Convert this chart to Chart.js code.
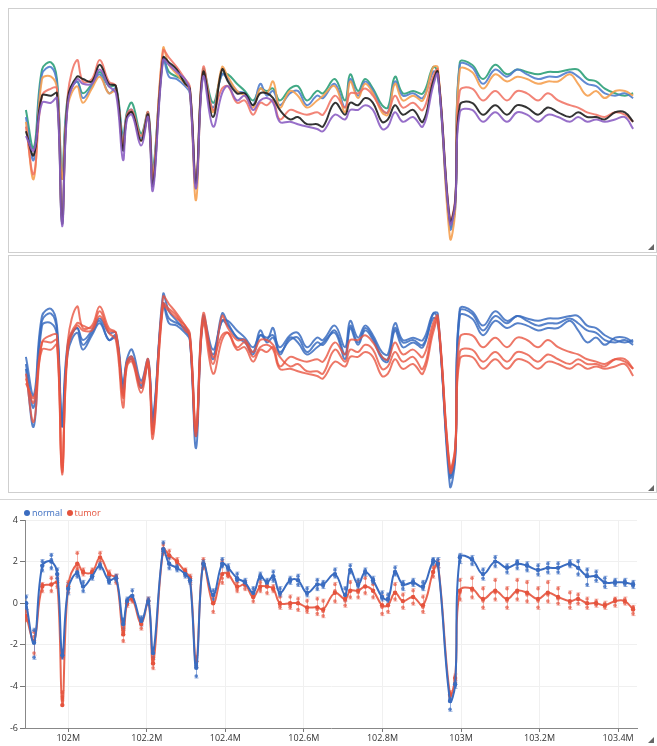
<!DOCTYPE html>
<html>
<head>
<meta charset="utf-8">
<script src="https://cdn.jsdelivr.net/npm/chart.js@4.4.1/dist/chart.umd.min.js"></script>
<style>
  body { margin: 0; width: 657px; height: 746px; background: #fff; position: relative; overflow: hidden;
         font-family: "Open Sans", "DejaVu Sans", sans-serif; }
  .panel { position: absolute; box-sizing: border-box; border: 1px solid #cfcfcf; background: #fff; }
  canvas { position: absolute; }
  .grip { position: absolute; width: 0; height: 0; border-left: 6px solid transparent; border-bottom: 6px solid #666; }
  .legend { position: absolute; left: 24px; top: 507px; font-size: 9px; line-height: 12px; white-space: nowrap; }
  .legend span.dot { display: inline-block; width: 6px; height: 6px; border-radius: 3px; margin-right: 2px; vertical-align: -0px; }
</style>
</head>
<body>
<div class="panel" style="left:8px; top:8px; width:649px; height:245px;"></div>
<div class="panel" style="left:8px; top:255px; width:649px; height:238px;"></div>
<div class="panel" style="left:-1px; top:499px; width:659px; height:250px; border-color:#d6d6d6;"></div>
<canvas id="samplesChart" width="646" height="242" style="left:9px; top:9px;"></canvas>
<canvas id="groupsChart" width="646" height="236" style="left:9px; top:256px;"></canvas>
<canvas id="meanChart" width="657" height="246" style="left:0; top:500px;"></canvas>
<div class="grip" style="left:648px; top:244px;"></div>
<div class="grip" style="left:648px; top:485px;"></div>
<div class="grip" style="left:648px; top:737px;"></div>
<div class="legend">
  <span class="dot" style="background:#3a6cc0"></span><span style="color:#3a6cc0">normal</span>
  <span class="dot" style="background:#e5533d; margin-left:2px"></span><span style="color:#e5533d">tumor</span>
</div>
<script>
// позиции проб, Mb
const positions = [101.893, 101.913, 101.934, 101.957, 101.972, 101.985, 102.000, 102.023, 102.038, 102.061,
  102.081, 102.104, 102.122, 102.140, 102.150, 102.163, 102.186, 102.204, 102.216, 102.242,
  102.257, 102.277, 102.298, 102.310, 102.326, 102.344, 102.369, 102.392, 102.407, 102.430,
  102.450, 102.471, 102.489, 102.506, 102.522, 102.539, 102.565, 102.585, 102.608, 102.634,
  102.649, 102.679, 102.705, 102.718, 102.738, 102.756, 102.776, 102.799, 102.814, 102.832,
  102.852, 102.878, 102.903, 102.929, 102.941, 102.972, 102.985, 102.997, 103.028, 103.056,
  103.087, 103.117, 103.143, 103.168, 103.196, 103.221, 103.247, 103.277, 103.298, 103.321,
  103.344, 103.366, 103.392, 103.417, 103.438];

// средние по группам (нижний график)
const normalMean = [0.0, -1.9, 1.8, 2.0, 1.4, -2.5, 0.7, 1.45, 0.8, 1.3,
  1.8, 1.1, 1.2, -1.0, 0.1, 0.35, -0.85, 0.1, -2.4, 2.6,
  1.9, 1.7, 1.4, 1.1, -3.1, 1.9, 0.4, 1.9, 1.7, 1.2,
  1.0, 0.5, 1.3, 1.0, 1.3, 0.5, 1.1, 1.1, 0.5, 0.9,
  0.9, 1.4, 0.4, 1.6, 0.9, 1.5, 1.1, 0.3, 0.2, 1.5,
  0.9, 1.0, 0.8, 2.0, 1.9, -4.7, -3.9, 2.2, 2.1, 1.4,
  2.0, 1.7, 1.9, 1.8, 1.6, 1.7, 1.7, 1.9, 1.7, 1.3,
  1.3, 1.0, 1.0, 1.0, 0.9];
const tumorMean = [-0.6, -1.8, 0.8, 0.9, 1.0, -4.9, 0.8, 1.9, 1.5, 1.5,
  2.2, 1.4, 1.2, -1.5, 0.0, 0.2, -1.0, 0.1, -2.9, 2.6,
  2.3, 2.0, 1.5, 1.2, -2.8, 1.9, 0.0, 1.4, 1.4, 0.8,
  0.9, 0.3, 0.8, 0.8, 0.7, 0.0, 0.0, 0.0, -0.2, -0.2,
  -0.3, 0.5, 0.2, 0.6, 0.6, 0.8, 0.6, -0.1, -0.1, 0.5,
  0.1, 0.3, -0.1, 1.5, 1.9, -4.4, -3.6, 0.6, 0.7, 0.2,
  0.6, 0.2, 0.6, 0.5, 0.2, 0.5, 0.3, 0.1, 0.2, 0.0,
  0.0, -0.1, 0.1, 0.1, -0.3];

// отдельные образцы: normal
const normal1 = [0.3, -1.3, 2.0, 2.3, 1.6, -2.3, 0.9, 1.5, 1.0, 1.4,
  1.9, 1.3, 1.3, -0.8, 0.2, 0.6, -0.7, 0.2, -2.2, 2.5,
  1.9, 1.7, 1.5, 1.2, -2.9, 2.0, 0.6, 1.8, 1.8, 1.4,
  1.1, 0.7, 1.2, 1.1, 1.2, 0.7, 1.2, 1.3, 0.7, 1.1,
  1.0, 1.6, 0.7, 1.8, 1.1, 1.6, 1.2, 0.5, 0.4, 1.7,
  1.0, 1.1, 1.0, 2.1, 1.9, -4.6, -3.8, 2.3, 2.2, 1.6,
  2.2, 1.8, 2.0, 1.9, 1.8, 1.9, 1.9, 2.0, 2.0, 1.6,
  1.5, 1.2, 1.0, 0.9, 1.0];
const normal2 = [0.0, -1.8, 1.8, 2.1, 1.4, -2.6, 0.7, 1.5, 0.8, 1.3,
  1.8, 1.0, 1.2, -1.0, 0.1, 0.3, -0.9, 0.1, -2.4, 2.5,
  1.7, 1.6, 1.3, 1.0, -3.0, 1.8, 0.4, 1.8, 1.6, 1.1,
  1.0, 0.5, 1.4, 0.9, 1.1, 0.5, 1.0, 1.1, 0.5, 0.9,
  0.8, 1.4, 0.4, 1.6, 0.9, 1.5, 1.1, 0.3, 0.2, 1.5,
  0.9, 1.0, 0.8, 1.9, 1.8, -4.7, -3.9, 2.2, 2.1, 1.4,
  2.0, 1.7, 2.0, 1.8, 1.6, 1.7, 1.7, 1.9, 1.7, 1.4,
  1.3, 1.0, 0.9, 1.0, 0.8];
const normal3 = [-0.2, -2.6, 1.6, 1.7, 1.2, -2.6, 0.5, 1.3, 0.6, 1.2,
  1.7, 1.0, 1.1, -1.2, 0.0, 0.2, -1.0, 0.0, -2.6, 2.9,
  2.2, 1.8, 1.4, 1.1, -3.5, 1.9, 0.2, 2.1, 1.7, 1.1,
  0.9, 0.4, 1.2, 1.0, 1.5, 0.4, 1.1, 0.9, 0.4, 0.7,
  0.9, 1.3, 0.2, 1.5, 0.8, 1.4, 1.0, 0.2, 0.1, 1.4,
  0.7, 0.9, 0.7, 2.1, 2.1, -5.1, -4.0, 2.0, 1.9, 1.2,
  1.8, 1.5, 1.7, 1.6, 1.4, 1.5, 1.5, 1.8, 1.4, 0.9,
  1.1, 0.8, 1.1, 1.1, 0.9];

// отдельные образцы: tumor
const tumor1 = [-0.4, -2.4, 0.9, 1.2, 1.2, -4.3, 1.0, 2.4, 1.5, 1.6,
  2.4, 1.5, 1.3, -1.3, 0.1, 0.3, -0.8, 0.2, -2.7, 2.8,
  2.5, 2.1, 1.6, 1.3, -2.6, 2.1, 0.3, 1.2, 1.3, 0.6,
  0.7, 0.1, 0.6, 0.5, 0.7, -0.1, 0.3, 0.2, 0.1, 0.2,
  0.1, 0.9, 0.4, 1.0, 1.0, 1.2, 0.9, 0.3, 0.2, 0.9,
  0.4, 0.6, 0.3, 1.7, 2.0, -4.3, -3.5, 1.1, 1.2, 0.7,
  1.1, 0.7, 1.1, 1.0, 0.7, 1.0, 0.7, 0.5, 0.4, 0.2,
  0.1, 0.0, 0.2, 0.1, -0.2];
const tumor2 = [-0.6, -1.6, 0.9, 0.9, 1.0, -4.5, 0.8, 1.7, 1.6, 1.5,
  2.2, 1.4, 1.3, -1.4, 0.0, 0.2, -1.0, 0.1, -2.9, 2.5,
  2.3, 2.0, 1.4, 1.2, -2.8, 1.9, 0.0, 2.0, 1.5, 1.0,
  1.0, 0.5, 1.0, 1.0, 0.8, 0.3, -0.1, 0.0, -0.3, -0.3,
  -0.4, 0.6, 0.1, 0.6, 0.5, 0.8, 0.6, -0.2, -0.1, 0.5,
  0.1, 0.3, -0.2, 1.5, 1.9, -4.4, -3.6, 0.5, 0.6, 0.1,
  0.5, 0.1, 0.5, 0.4, 0.1, 0.4, 0.2, 0.0, 0.2, 0.0,
  0.0, -0.1, 0.2, 0.2, -0.2];
const tumor3 = [-0.8, -1.4, 0.6, 0.6, 0.8, -4.6, 0.6, 1.6, 1.4, 1.4,
  2.0, 1.3, 1.0, -1.8, -0.1, 0.1, -1.2, 0.0, -3.1, 2.4,
  2.2, 1.9, 1.6, 1.1, -3.0, 1.7, -0.4, 1.0, 1.3, 0.7,
  0.9, 0.3, 0.7, 0.8, 0.6, -0.2, -0.2, -0.3, -0.4, -0.5,
  -0.6, 0.1, -0.1, 0.3, 0.3, 0.5, 0.3, -0.5, -0.4, 0.2,
  -0.2, 0.0, -0.4, 1.3, 1.8, -4.5, -3.7, 0.2, 0.3, -0.2,
  0.2, -0.2, 0.2, 0.1, -0.2, 0.1, 0.0, -0.2, 0.0, -0.2,
  -0.1, -0.2, -0.1, 0.0, -0.5];

const xTicks = [102.0, 102.2, 102.4, 102.6, 102.8, 103.0, 103.2, 103.4];

const NORMAL_COLOR = "#3a6cc0";
const TUMOR_COLOR = "#e5533d";

function toPoints(values) {
  return values.map((v, i) => ({ x: positions[i], y: v }));
}

function smoothLine(label, values, color, order) {
  return {
    label,
    data: toPoints(values),
    borderColor: color,
    borderWidth: 2,
    pointRadius: 0,
    tension: 0.4,
    fill: false,
    order,
  };
}

const baseOptions = (yMin, yMax) => ({
  responsive: false,
  animation: false,
  events: [],
  layout: { padding: 0 },
  plugins: { legend: { display: false }, tooltip: { enabled: false } },
  scales: {
    x: { type: "linear", display: false, min: 101.85, max: 103.4936 },
    y: { type: "linear", display: false, min: yMin, max: yMax },
  },
});

/**
 * ВЕРХНИЙ: каждый образец своим цветом
 */
new Chart(document.getElementById("samplesChart"), {
  type: "line",
  data: {
    datasets: [
      smoothLine("normal 1", normal1, "rgba(44, 160, 120, 0.9)", 6),
      smoothLine("normal 2", normal2, "rgba(80, 125, 205, 0.9)", 5),
      smoothLine("normal 3", normal3, "rgba(245, 160, 80, 0.9)", 4),
      smoothLine("tumor 1", tumor1, "rgba(240, 110, 95, 0.85)", 3),
      smoothLine("tumor 2", tumor2, "rgba(30, 30, 30, 0.9)", 2),
      smoothLine("tumor 3", tumor3, "rgba(140, 95, 195, 0.9)", 1),
    ],
  },
  options: baseOptions(-5.64, 4.55),
});

/**
 * СРЕДНИЙ: образцы по группам
 */
new Chart(document.getElementById("groupsChart"), {
  type: "line",
  data: {
    datasets: [
      smoothLine("tumor 1", tumor1, "rgba(232, 85, 65, 0.8)", 1),
      smoothLine("tumor 2", tumor2, "rgba(232, 85, 65, 0.8)", 1),
      smoothLine("tumor 3", tumor3, "rgba(232, 85, 65, 0.8)", 1),
      smoothLine("normal 1", normal1, "rgba(58, 108, 192, 0.85)", 2),
      smoothLine("normal 2", normal2, "rgba(58, 108, 192, 0.85)", 2),
      smoothLine("normal 3", normal3, "rgba(58, 108, 192, 0.85)", 2),
    ],
  },
  options: baseOptions(-5.33, 4.5),
});

// разброс образцов: вертикальные отрезки min..max
const groups = [
  { samples: [tumor1, tumor2, tumor3], color: "rgba(229, 83, 61, 0.45)" },
  { samples: [normal1, normal2, normal3], color: "rgba(58, 108, 192, 0.55)" },
];

const errorBars = {
  id: "errorBars",
  beforeDatasetsDraw(chart) {
    const { ctx, chartArea, scales } = chart;
    ctx.save();
    ctx.beginPath();
    ctx.rect(chartArea.left, chartArea.top, chartArea.width, chartArea.height);
    ctx.clip();
    ctx.lineWidth = 1;
    groups.forEach((g) => {
      ctx.strokeStyle = g.color;
      positions.forEach((pos, i) => {
        const vals = g.samples.map((s) => s[i]);
        const px = Math.round(scales.x.getPixelForValue(pos)) + 0.5;
        const top = scales.y.getPixelForValue(Math.max(...vals));
        const bot = scales.y.getPixelForValue(Math.min(...vals));
        ctx.beginPath();
        ctx.moveTo(px, top - 2);
        ctx.lineTo(px, bot + 2);
        ctx.moveTo(px - 2, top - 2);
        ctx.lineTo(px + 2, top - 2);
        ctx.moveTo(px - 2, bot + 2);
        ctx.lineTo(px + 2, bot + 2);
        ctx.stroke();
      });
    });
    ctx.restore();
  },
};

function sampleDots(values, color) {
  return {
    type: "scatter",
    data: toPoints(values),
    showLine: false,
    pointRadius: 1.8,
    pointBorderWidth: 0,
    pointBackgroundColor: color,
    order: 3,
  };
}

/**
 * НИЖНИЙ: средние + точки образцов
 */
new Chart(document.getElementById("meanChart"), {
  type: "line",
  data: {
    datasets: [
      {
        label: "normal",
        data: toPoints(normalMean),
        borderColor: NORMAL_COLOR,
        backgroundColor: NORMAL_COLOR,
        borderWidth: 2,
        pointRadius: 2.2,
        pointBorderWidth: 0,
        tension: 0.4,
        order: 1,
      },
      {
        label: "tumor",
        data: toPoints(tumorMean),
        borderColor: "rgba(229, 83, 61, 0.9)",
        backgroundColor: TUMOR_COLOR,
        borderWidth: 2,
        pointRadius: 2.2,
        pointBorderWidth: 0,
        tension: 0.4,
        order: 2,
      },
      sampleDots(normal1, "rgba(58, 108, 192, 0.8)"),
      sampleDots(normal2, "rgba(58, 108, 192, 0.8)"),
      sampleDots(normal3, "rgba(58, 108, 192, 0.8)"),
      sampleDots(tumor1, "rgba(229, 83, 61, 0.7)"),
      sampleDots(tumor2, "rgba(229, 83, 61, 0.7)"),
      sampleDots(tumor3, "rgba(229, 83, 61, 0.7)"),
    ],
  },
  options: {
    responsive: false,
    animation: false,
    events: [],
    layout: { padding: { top: 20, right: 20, left: 0, bottom: 0 } },
    plugins: { legend: { display: false }, tooltip: { enabled: false } },
    scales: {
      x: {
        type: "linear",
        min: 101.89,
        max: 103.448,
        afterFit: (s) => { s.height = 18; },
        afterBuildTicks: (s) => { s.ticks = xTicks.map((v) => ({ value: v })); },
        grid: { color: "#f0f0f0", tickColor: "#777", tickLength: 4 },
        border: { color: "#888" },
        ticks: {
          padding: 1,
          color: "#333",
          font: { family: "Open Sans", size: 9 },
          maxRotation: 0,
          callback: (v) => +Number(v).toFixed(1) + "M",
        },
      },
      y: {
        type: "linear",
        min: -6,
        max: 4,
        afterFit: (s) => { s.width = 25; },
        grid: { color: "#f0f0f0", tickColor: "#777", tickLength: 5 },
        border: { color: "#888" },
        ticks: {
          stepSize: 2,
          padding: 2,
          color: "#333",
          font: { family: "Open Sans", size: 9 },
        },
      },
    },
  },
  plugins: [errorBars],
});
</script>
</body>
</html>
